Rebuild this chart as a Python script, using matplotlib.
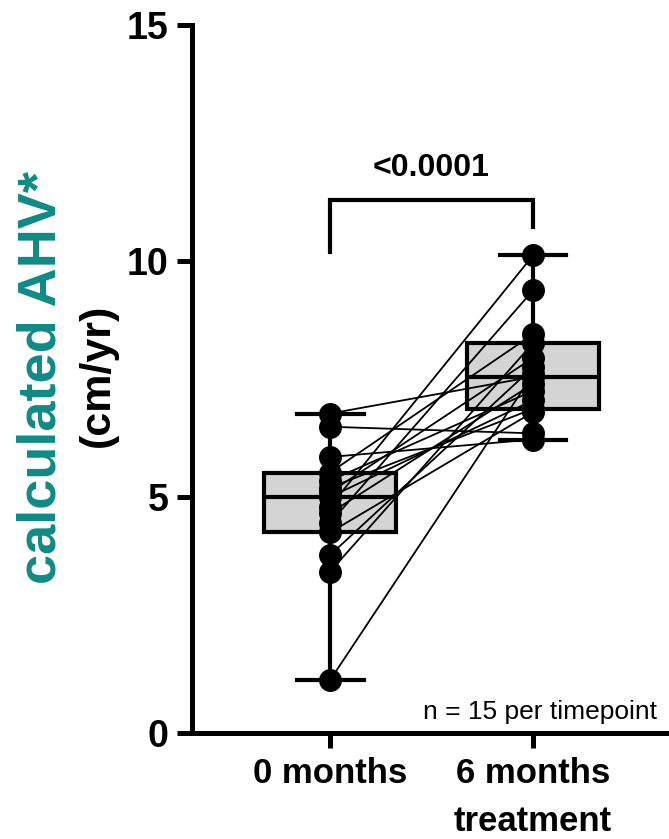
import numpy as np
import matplotlib
matplotlib.use("Agg")
from matplotlib import pyplot as plt

# AHV values (cm/yr), paired per patient
ahv_0m = [6.77, 6.49, 5.85, 5.52, 5.35, 5.2, 5.1, 5.0, 4.8, 4.66, 4.45, 4.25, 3.77, 3.42, 1.12]
ahv_6m = [7.55, 6.35, 6.22, 8.45, 7.25, 6.87, 7.95, 7.05, 10.12, 7.4, 9.38, 6.8, 7.75, 8.26, 7.6]
groups = ["0 months", "6 months\ntreatment"]
p_text = "<0.0001"
n_text = "n = 15 per timepoint"
teal = "#0f8a85"

plt.rcParams['font.family'] = ['Liberation Sans', 'DejaVu Sans']


def box_stats(vals, label):
    v = np.asarray(vals)
    q1, med, q3 = np.percentile(v, [25, 50, 75], method='weibull')
    return dict(med=med, q1=q1, q3=q3, whislo=v.min(), whishi=v.max(),
                fliers=[], label=label)


def main():
    fig = plt.figure(figsize=(6.69, 8.39), dpi=100)
    ax = fig.add_axes([0.287, 0.1263, 0.713, 0.8437])

    xs = [0, 1]
    stats = [box_stats(ahv_0m, groups[0]), box_stats(ahv_6m, groups[1])]
    ax.bxp(stats, positions=xs, widths=0.65, patch_artist=True, showfliers=False,
           boxprops=dict(facecolor="#d4d4d4", edgecolor="black", linewidth=3),
           medianprops=dict(color="black", linewidth=3),
           whiskerprops=dict(color="black", linewidth=3),
           capprops=dict(color="black", linewidth=3), capwidths=0.33,
           zorder=1)

    # paired lines
    for a, b in zip(ahv_0m, ahv_6m):
        ax.plot(xs, [a, b], color="black", lw=1.3, zorder=2)
    ax.plot(np.zeros(len(ahv_0m)), ahv_0m, 'o', color="black", ms=15.5, zorder=3)
    ax.plot(np.ones(len(ahv_6m)), ahv_6m, 'o', color="black", ms=15.5, zorder=3)

    # significance bracket
    ax.plot([0, 0, 1, 1], [10.2, 11.29, 11.29, 10.72], color="black", lw=3,
            solid_joinstyle='miter', zorder=2)
    ax.text(0.5, 11.97, p_text, ha='center', va='center', fontsize=23, fontweight='bold')

    ax.text(1.61, 0.45, n_text, ha='right', va='center', fontsize=19)

    ax.set_xlim(-0.68, 1.67)
    ax.set_ylim(0, 15)
    ax.set_yticks([0, 5, 10, 15])
    ax.set_xticks(xs)
    ax.set_xticklabels(groups, fontsize=25, fontweight='bold', linespacing=1.6)
    for t in ax.get_yticklabels():
        t.set_fontsize(27)
        t.set_fontweight('bold')
    ax.spines['top'].set_visible(False)
    ax.spines['right'].set_visible(False)
    for s in ['left', 'bottom']:
        ax.spines[s].set_linewidth(3.6)
    ax.tick_params(axis='both', width=3.6, length=11, pad=6)

    fig.text(0.062, 0.55, "calculated AHV*", rotation=90, ha='center', va='center',
             color=teal, fontsize=39, fontweight='bold')
    fig.text(0.146, 0.553, "(cm/yr)", rotation=90, ha='center', va='center',
             color="black", fontsize=31, fontweight='bold')

    fig.savefig("out.png", dpi=100)


if __name__ == "__main__":
    main()
